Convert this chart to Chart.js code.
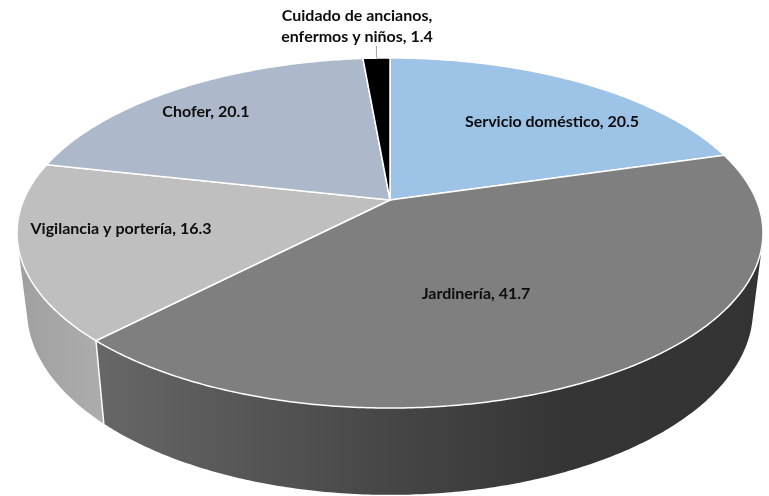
<!DOCTYPE html>
<html>
<head>
<meta charset="utf-8">
<title>Pie 3D</title>
<script src="https://cdn.jsdelivr.net/npm/chart.js@4/dist/chart.umd.min.js"></script>
<style>
  html, body { margin: 0; padding: 0; background: #fff; }
  canvas { display: block; }
</style>
</head>
<body>
<canvas id="chart" width="769" height="496"></canvas>
<script>
const categories = ["Servicio doméstico", "Jardinería", "Vigilancia y portería", "Chofer", "Cuidado de ancianos, enfermos y niños"];
const values = [20.5, 41.7, 16.3, 20.1, 1.4];
const topColors = ["#9DC3E6", "#7F7F7F", "#BFBFBF", "#ADB9CA", "#000000"];

// side wall shading, left to right as [x, colour]
const wallShades = [
  [[0, "#7a97b3"]],
  [[96, "#676767"], [400, "#454545"], [560, "#353535"], [769, "#333333"]],
  [[18, "#a0a0a0"], [100, "#acacac"]],
  [[0, "#87909d"]],
  [[0, "#000000"]]
];

// label text lines and where the centre of the text goes
const labelLines = [
  ["Servicio doméstico, 20.5"],
  ["Jardinería, 41.7"],
  ["Vigilancia y portería, 16.3"],
  ["Chofer, 20.1"],
  ["Cuidado de ancianos,", "enfermos y niños, 1.4"]
];
const labelSpots = [[552, 122], [476, 294], [121, 229], [206, 112], [357, 16]];

// perspective of the pie: top disc and bottom disc
const topDisc = { cx: 390, cy: 200, a: 366.3, b: 168.8, p: -0.1886 };
const bottomDisc = { cx: 390, cy: 275, a: 356.5, b: 178.4, p: -0.1886 };

function project(disc, angle){
  const u = Math.cos(angle), v = Math.sin(angle);
  const w = 1 + disc.p * v;
  return [disc.cx + disc.a * u / w, disc.cy + disc.b * v / w];
}

function traceRim(ctx, disc, from, to){
  const steps = Math.max(2, Math.ceil(Math.abs(to - from) / 0.01));
  for(let i = 0; i <= steps; i++){
    const pt = project(disc, from + (to - from) * i / steps);
    ctx.lineTo(pt[0], pt[1]);
  }
}

function wallGradient(ctx, shade){
  const x0 = shade[0][0];
  const x1 = Math.max(shade[shade.length - 1][0], x0 + 1);
  const grad = ctx.createLinearGradient(x0, 0, x1, 0);
  shade.forEach(s => grad.addColorStop((s[0] - x0) / (x1 - x0), s[1]));
  return grad;
}

// wall of one slice: small quads in one path, all wound the same way so they fill as a union
function drawWall(ctx, arc, shade){
  const steps = Math.max(2, Math.ceil((arc.endAngle - arc.startAngle) / 0.01));
  const step = (arc.endAngle - arc.startAngle) / steps;
  ctx.beginPath();
  for(let i = 0; i < steps; i++){
    const a0 = arc.startAngle + i * step, a1 = a0 + step;
    const q = [project(topDisc, a0), project(topDisc, a1), project(bottomDisc, a1), project(bottomDisc, a0)];
    let area = 0;
    q.forEach((pt, k) => {
      const nx = q[(k + 1) % 4];
      area += pt[0] * nx[1] - nx[0] * pt[1];
    });
    if(area < 0) q.reverse();
    ctx.moveTo(q[0][0], q[0][1]);
    for(let k = 1; k < 4; k++) ctx.lineTo(q[k][0], q[k][1]);
    ctx.closePath();
  }
  ctx.fillStyle = wallGradient(ctx, shade);
  ctx.fill();
}

function drawSeam(ctx, angle){
  const a = project(topDisc, angle), b = project(bottomDisc, angle);
  ctx.beginPath();
  ctx.moveTo(a[0], a[1]);
  ctx.lineTo(b[0], b[1]);
  ctx.strokeStyle = "#fff";
  ctx.lineWidth = 1.5;
  ctx.stroke();
}

const pie3d = {
  id: "pie3d",
  beforeDatasetsDraw(chart){
    const ctx = chart.ctx;
    const arcs = chart.getDatasetMeta(0).data;

    // walls first, back ones first, the top covers what should not show
    const order = arcs.map((a, i) => i).sort((i, j) => {
      const mid = k => Math.sin((arcs[k].startAngle + arcs[k].endAngle) / 2);
      return mid(i) - mid(j);
    });
    order.forEach(i => drawWall(ctx, arcs[i], wallShades[i]));
    arcs.forEach(arc => drawSeam(ctx, arc.startAngle));

    // top faces
    arcs.forEach(arc => {
      ctx.beginPath();
      ctx.moveTo(topDisc.cx, topDisc.cy);
      traceRim(ctx, topDisc, arc.startAngle, arc.endAngle);
      ctx.closePath();
      ctx.fillStyle = arc.options.backgroundColor;
      ctx.fill();
      ctx.strokeStyle = arc.options.borderColor;
      ctx.lineWidth = arc.options.borderWidth;
      ctx.stroke();
    });

    // leader line of the small slice
    const small = arcs[arcs.length - 1];
    const tip = project(topDisc, (small.startAngle + small.endAngle) / 2);
    ctx.beginPath();
    ctx.moveTo(tip[0], tip[1]);
    ctx.lineTo(tip[0], tip[1] - 12);
    ctx.strokeStyle = "#a6a6a6";
    ctx.lineWidth = 1;
    ctx.stroke();

    // labels
    ctx.font = "bold 16px Lato";
    ctx.fillStyle = "#0d0d0d";
    ctx.textAlign = "center";
    ctx.textBaseline = "middle";
    labelLines.forEach((lines, i) => {
      lines.forEach((line, k) => {
        ctx.fillText(line, labelSpots[i][0], labelSpots[i][1] + k * 21);
      });
    });
    return false;
  }
};

new Chart(document.getElementById("chart"), {
  type: "pie",
  data: {
    labels: categories,
    datasets: [{
      data: values,
      backgroundColor: topColors,
      borderColor: "#fff",
      borderWidth: 1.5
    }]
  },
  options: {
    responsive: false,
    animation: false,
    plugins: { legend: { display: false }, tooltip: { enabled: false } }
  },
  plugins: [pie3d]
});
</script>
</body>
</html>
